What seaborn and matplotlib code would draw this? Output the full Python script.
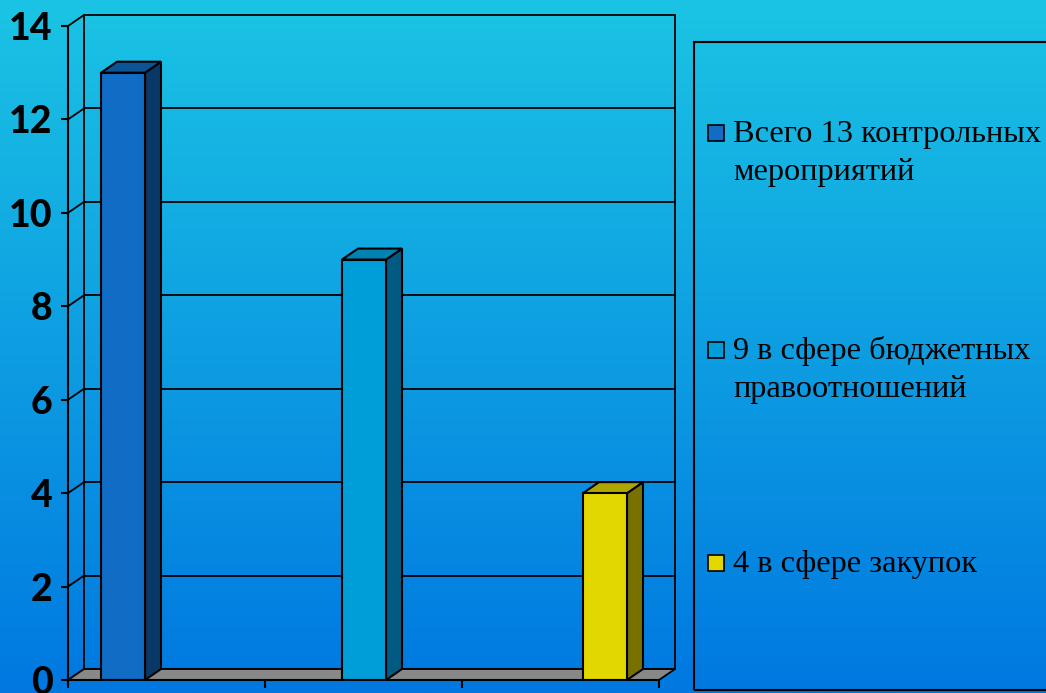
import numpy as np
import pandas as pd
import matplotlib
matplotlib.use("Agg")
import matplotlib.pyplot as plt
import matplotlib.transforms as mtransforms
from matplotlib.patches import Polygon, Rectangle
import seaborn as sns

# ---- data ----
labels = ["Всего 13 контрольных\nмероприятий",
          "9 в сфере бюджетных\nправоотношений",
          "4 в сфере закупок"]
values = [13, 9, 4]
front_colors = ["#106CC4", "#009ED8", "#E2D800"]
side_colors = ["#0A3866", "#005A82", "#787000"]
top_colors = ["#0C5496", "#0082B2", "#B0A600"]
y_ticks = [0, 2, 4, 6, 8, 10, 12, 14]

df = pd.DataFrame({"label": labels, "value": values})

sns.set_theme(style="white")
plt.rcParams["font.family"] = ["DejaVu Sans"]
plt.rcParams["text.color"] = "black"
plt.rcParams["ytick.color"] = "black"
plt.rcParams["xtick.color"] = "black"

W, H = 1046, 693
fig = plt.figure(figsize=(W / 100, H / 100), dpi=100)

# gradient background
bg = fig.add_axes([0, 0, 1, 1], zorder=-10)
grad = np.linspace(0, 1, 256).reshape(-1, 1)
top_c = np.array([27, 196, 228]) / 255
bot_c = np.array([0, 120, 224]) / 255
img = top_c + (bot_c - top_c) * grad[..., None]
bg.imshow(img, aspect="auto", extent=[0, 1, 0, 1], origin="upper")
bg.set_axis_off()

# front plane of the 3D chart
ax = fig.add_axes([68 / W, (H - 680) / H, (659 - 68) / W, (680 - 26) / H])
ax.patch.set_alpha(0)

bw = 44 / 241
sns.barplot(data=df, x="label", y="value", hue="label", palette=front_colors,
            saturation=1, width=bw, edgecolor="black", linewidth=1.5,
            legend=False, zorder=5, ax=ax)

x0 = -55 / 241
x1 = x0 + (659 - 68) / 241
ax.set_xlim(x0, x1)
ax.set_ylim(0, 14)

dx, dy = 16, 11  # depth in pixels
dxd = dx / 241
dyd = dy * 14 / (680 - 26)
back = mtransforms.offset_copy(ax.transData, fig=fig, x=dx, y=dy, units="dots")

# back wall and grid
for t in y_ticks:
    ax.plot([x0, x1], [t, t], color="black", lw=1.3, transform=back,
            clip_on=False, zorder=1)
    ax.plot([x0, x0 + dxd], [t, t + dyd], color="black", lw=1.3,
            clip_on=False, zorder=1)
ax.plot([x0, x0], [0, 14], color="black", lw=1.3, transform=back,
        clip_on=False, zorder=1)
ax.plot([x1, x1], [0, 14], color="black", lw=1.3, transform=back,
        clip_on=False, zorder=1)

# floor
floor = Polygon([[x0, 0], [x1, 0], [x1 + dxd, dyd], [x0 + dxd, dyd]],
                closed=True, facecolor="#888888", edgecolor="black", lw=1.3,
                clip_on=False, zorder=2)
ax.add_patch(floor)

# 3D faces of bars
for i, p in enumerate(ax.patches[:len(values)]):
    bx, by = p.get_x(), p.get_height()
    w = p.get_width()
    side = Polygon([[bx + w, 0], [bx + w + dxd, dyd], [bx + w + dxd, by + dyd],
                    [bx + w, by]], closed=True, facecolor=side_colors[i],
                   edgecolor="black", lw=1.5, zorder=4, clip_on=False)
    top = Polygon([[bx, by], [bx + w, by], [bx + w + dxd, by + dyd],
                   [bx + dxd, by + dyd]], closed=True, facecolor=top_colors[i],
                  edgecolor="black", lw=1.5, zorder=4, clip_on=False)
    ax.add_patch(side)
    ax.add_patch(top)

# axes lines and ticks
for s in ["top", "right"]:
    ax.spines[s].set_visible(False)
for s in ["left", "bottom"]:
    ax.spines[s].set_color("black")
    ax.spines[s].set_linewidth(1.5)
    ax.spines[s].set_zorder(6)
ax.set_yticks(y_ticks)
ax.set_yticklabels([str(t) for t in y_ticks], fontsize=27, fontweight=900,
                   family=["Lato", "DejaVu Sans"], color="black")
ax.set_xticks(np.linspace(x0, x1, 4))
ax.set_xticklabels([])
ax.tick_params(axis="y", length=5, width=1.5, color="black", direction="out",
               pad=6, left=True)
ax.tick_params(axis="x", length=6, width=1.5, color="black", direction="out",
               bottom=True)
ax.set_xlabel("")
ax.set_ylabel("")

# legend box
leg = Rectangle((694 / W, (H - 690) / H), (W + 5 - 694) / W, (690 - 42) / H,
                transform=fig.transFigure, facecolor="none", edgecolor="black",
                lw=1.5, zorder=10)
fig.add_artist(leg)
marker_y = [133, 350, 563]
line_gap = 38
for lab, col, yy in zip(labels, front_colors, marker_y):
    fig.add_artist(Rectangle((708 / W, (H - yy - 8) / H), 16 / W, 16 / H,
                             transform=fig.transFigure, facecolor=col,
                             edgecolor="black", lw=1.2, zorder=11))
    for k, line in enumerate(lab.split("\n")):
        fig.text(733 / W, (H - (yy + 9 + k * line_gap)) / H, line,
                 fontsize=23.3, va="baseline", color="black",
                 family=["Liberation Serif", "DejaVu Serif"])

fig.savefig("out.png", dpi=100)
